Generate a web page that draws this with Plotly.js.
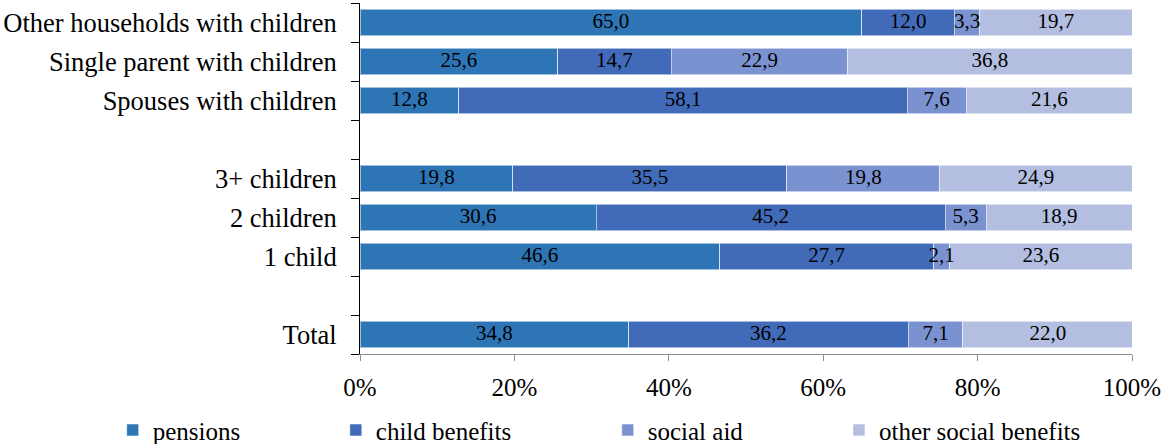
<!DOCTYPE html>
<html>
<head>
<meta charset="utf-8">
<script src="https://cdn.plot.ly/plotly-3.0.1.min.js"></script>
<style>html,body{margin:0;padding:0;background:#fff;}#chart{width:1162px;height:444px;}</style>
</head>
<body>
<div id="chart"></div>
<script>
// Categories from bottom to top (blank labels are spacer rows)
const categories = ["Total", " ", "1 child", "2 children", "3+ children", "  ",
  "Spouses with children", "Single parent with children", "Other households with children"];
const seriesNames = ["pensions", "child benefits", "social aid", "other social benefits"];
const pensions      = [34.8, null, 46.6, 30.6, 19.8, null, 12.8, 25.6, 65.0];
const childBenefits = [36.2, null, 27.7, 45.2, 35.5, null, 58.1, 14.7, 12.0];
const socialAid     = [7.1,  null, 2.1,  5.3,  19.8, null, 7.6,  22.9, 3.3];
const otherSocial   = [22.0, null, 23.6, 18.9, 24.9, null, 21.6, 36.8, 19.7];
const xTickVals = [0, 20, 40, 60, 80, 100];
const xTickText = ["0%", "20%", "40%", "60%", "80%", "100%"];

const colors = ["#2E75B6", "#416AB8", "#7A93D0", "#B4BEE0"];
const seriesValues = [pensions, childBenefits, socialAid, otherSocial];
const legendIds = ["legend", "legend2", "legend3", "legend4"];
const FONT = "Liberation Serif, Times New Roman, Times, DejaVu Serif, serif";

const fmt = v => (v === null ? "" : v.toFixed(1).replace(".", ","));

const traces = seriesValues.map((vals, i) => ({
  type: "bar",
  orientation: "h",
  name: seriesNames[i],
  y: categories,
  x: vals,
  marker: {color: colors[i], line: {color: "rgba(255,255,255,0.55)", width: 1}},
  legend: legendIds[i],
  hoverinfo: "skip"
}));

// Data labels drawn above all bars, at each segment's centre (from the data)
const labelX = [], labelY = [], labelText = [];
categories.forEach((cat, j) => {
  let acc = 0;
  seriesValues.forEach(vals => {
    const v = vals[j];
    if (v === null) return;
    labelX.push(acc + v / 2);
    labelY.push(cat);
    labelText.push(fmt(v));
    acc += v;
  });
});
traces.push({
  type: "scatter", mode: "text",
  x: labelX, y: labelY, text: labelText,
  textposition: "middle center",
  textfont: {family: FONT, size: 21, color: "#000"},
  showlegend: false, hoverinfo: "skip", cliponaxis: false
});

const legendBase = (x) => ({
  x: x, y: 0.031, xref: "container", yref: "container",
  xanchor: "left", yanchor: "middle",
  orientation: "h", bgcolor: "rgba(0,0,0,0)", borderwidth: 0,
  font: {family: FONT, size: 25, color: "#000"}
});

const layout = {
  width: 1162, height: 444,
  margin: {l: 360, r: 30, t: 3, b: 90, autoexpand: false},
  paper_bgcolor: "#fff", plot_bgcolor: "#fff",
  barmode: "stack",
  bargap: 0.33,
  font: {family: FONT, color: "#000"},
  showlegend: true,
  legend: legendBase(0.097),
  legend2: legendBase(0.289),
  legend3: legendBase(0.523),
  legend4: legendBase(0.722),
  xaxis: {
    range: [0, 100], tickvals: xTickVals, ticktext: xTickText,
    showgrid: false, zeroline: false,
    showline: true, linecolor: "#8c8c8c", linewidth: 1,
    ticks: "outside", ticklen: 6, tickcolor: "#8c8c8c",
    tickfont: {family: FONT, size: 25, color: "#000"},
    ticklabelstandoff: 5,
    fixedrange: true
  },
  yaxis: {
    type: "category", categoryorder: "array", categoryarray: categories,
    range: [-0.5, 8.5],
    showgrid: false, zeroline: false,
    showline: true, linecolor: "#000", linewidth: 1,
    ticks: "outside", ticklen: 8, tickcolor: "#000", tickson: "boundaries",
    tickfont: {family: FONT, size: 26.5, color: "#000"},
    ticklabelstandoff: 17,
    fixedrange: true
  }
};

Plotly.newPlot("chart", traces, layout, {displayModeBar: false, staticPlot: true});
</script>
</body>
</html>
